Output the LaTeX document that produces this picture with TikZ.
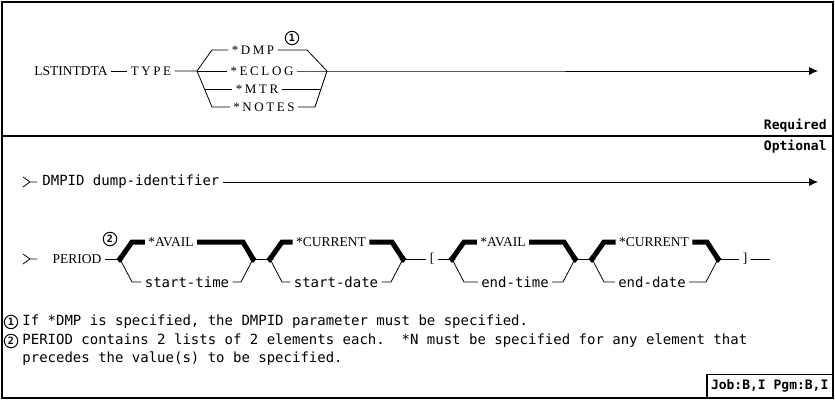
\documentclass[tikz,border=0pt]{standalone}
\usepackage{fontspec}
\setmainfont{Liberation Serif}
\newfontfamily\kwfont{Liberation Serif}[LetterSpace=20]
\newfontfamily\codefont{DejaVu Sans Mono}
\usetikzlibrary{arrows.meta}
\frenchspacing

\tikzset{
  kw/.style={font=\kwfont\fontsize{13}{15}\selectfont, inner sep=3pt},
  kwb/.style={font=\rmfamily\fontsize{13.5}{15}\selectfont, inner sep=3pt},
  val/.style={font=\codefont\fontsize{14}{16}\selectfont, inner sep=3pt},
  tag/.style={font=\codefont\bfseries\fontsize{13}{15}\selectfont, inner sep=2pt},
  note/.style={circle, draw, line width=1pt, inner sep=1.4pt, font=\codefont\bfseries\fontsize{10}{11}\selectfont},
  heavy/.style={line width=5pt, line join=miter},
  endarrow/.style={-{Latex[length=9pt,width=8pt]}},
}
\newcommand\knob[1]{\fill (#1) +(-3.5,0) -- +(0,-4) -- +(3.5,0) -- +(0,4) -- cycle;}

\begin{document}
\begin{tikzpicture}[x=1pt,y=-1pt,line width=0.8pt]
        \useasboundingbox (0,0) rectangle (835,401);
        % 外框
        \draw[line width=1.2pt] (2,2) rectangle (833,398);
        \draw[line width=1.2pt] (2,136) -- (833,136);

        % 必选部分
        \coordinate (tf) at (197,71);
        \coordinate (tj) at (327,71);
        \coordinate (tend) at (818,71);
        \node[kwb] (lst) at (71,71) {LSTINTDTA};
        \node[kw] (type) at (151,71) {TYPE};
        \node[kw] (dmp) at (253,50) {*DMP};
        \node[kw] (eclog) at (262,71) {*ECLOG};
        \node[kw] (mtr) at (257,89) {*MTR};
        \node[kw] (notes) at (264,107) {*NOTES};
        \node[note] (n1) at (292,38) {1};
        \draw (lst) -- (type);
        \draw (type) -- (tf) -- (212,50) -- (dmp);
        \draw (tf) -- (eclog);
        \draw (tf) -- (212,107) -- (notes);
        \draw (204.5,89) -- (mtr);
        \draw (dmp) -- (307,50) -- (tj);
        \draw (notes) -- (315,107) -- (tj);
        \draw (mtr) -- (321,89);
        \draw[endarrow] (eclog) -- (tj) -- (tend);
        \node[tag, anchor=east] (req) at (829,126) {Required};
        \node[tag, anchor=east] (opt) at (829,147) {Optional};

        % DMPID
        \coordinate (dend) at (818,182);
        \draw (23,177) -- (30,182) -- (23,187) (30,182) -- (37,182);
        \node[val, anchor=west] (dmpid) at (39,182) {DMPID dump-identifier};
        \draw[endarrow] (dmpid) -- (dend);

        % PERIOD
        \coordinate (g1a) at (120,259);
        \coordinate (g1b) at (253,259);
        \coordinate (g2a) at (270,259);
        \coordinate (g2b) at (403,259);
        \coordinate (g3a) at (452,259);
        \coordinate (g3b) at (575,259);
        \coordinate (g4a) at (592,259);
        \coordinate (g4b) at (718,259);
        \coordinate (pend) at (770,259);
        \draw (23,254) -- (30,259) -- (23,264) (30,259) -- (37,259);
        \node[kwb] (period) at (77,259) {PERIOD};
        \node[note] (n2) at (110,239) {2};
        \node[kwb] (avail1) at (171,242) {*AVAIL};
        \node[val] (stime) at (187,282) {start-time};
        \node[kwb] (cur1) at (331,242) {*CURRENT};
        \node[val] (sdate) at (336,282) {start-date};
        \node[kwb] (lbr) at (432,259) {[};
        \node[kwb] (avail2) at (503,242) {*AVAIL};
        \node[val] (etime) at (515,282) {end-time};
        \node[kwb] (cur2) at (654,242) {*CURRENT};
        \node[val] (edate) at (652,282) {end-date};
        \node[kwb] (rbr) at (745,259) {]};
        \draw (period) -- (g1a);
        \draw[heavy] (g1a) -- (132,242) -- (avail1);
        \draw[heavy] (avail1) -- (243,242) -- (g1b);
        \draw (g1a) -- (132,282) -- (stime);
        \draw (stime) -- (241,282) -- (g1b);
        \draw (g1b) -- (g2a);
        \draw[heavy] (g2a) -- (282,242) -- (cur1);
        \draw[heavy] (cur1) -- (392,242) -- (g2b);
        \draw (g2a) -- (282,282) -- (sdate);
        \draw (sdate) -- (391,282) -- (g2b);
        \draw (g2b) -- (lbr);
        \draw (lbr) -- (g3a);
        \draw[heavy] (g3a) -- (464,242) -- (avail2);
        \draw[heavy] (avail2) -- (564,242) -- (g3b);
        \draw (g3a) -- (464,282) -- (etime);
        \draw (etime) -- (563,282) -- (g3b);
        \draw (g3b) -- (g4a);
        \draw[heavy] (g4a) -- (604,242) -- (cur2);
        \draw[heavy] (cur2) -- (707,242) -- (g4b);
        \draw (g4a) -- (604,282) -- (edate);
        \draw (edate) -- (706,282) -- (g4b);
        \draw (g4b) -- (rbr);
        \draw (rbr) -- (pend);
        \knob{g1a} \knob{g1b} \knob{g2a} \knob{g2b}
        \knob{g3a} \knob{g3b} \knob{g4a} \knob{g4b}

        % 注释
        \node[note] (f1) at (11,322) {1};
        \node[val, anchor=west] (f1t) at (19,322) {If *DMP is specified, the DMPID parameter must be specified.};
        \node[note] (f2) at (11,341) {2};
        \node[val, anchor=west] (f2t) at (19,341) {PERIOD contains 2 lists of 2 elements each.\ \ *N must be specified for any element that};
        \node[val, anchor=west] (f3t) at (19,359) {precedes the value(s) to be specified.};
        \node[tag, draw, line width=1.2pt, anchor=south east, minimum height=23pt, inner sep=4pt] (job) at (833,398) {Job:B,I Pgm:B,I};
    \end{tikzpicture}
\end{document}
